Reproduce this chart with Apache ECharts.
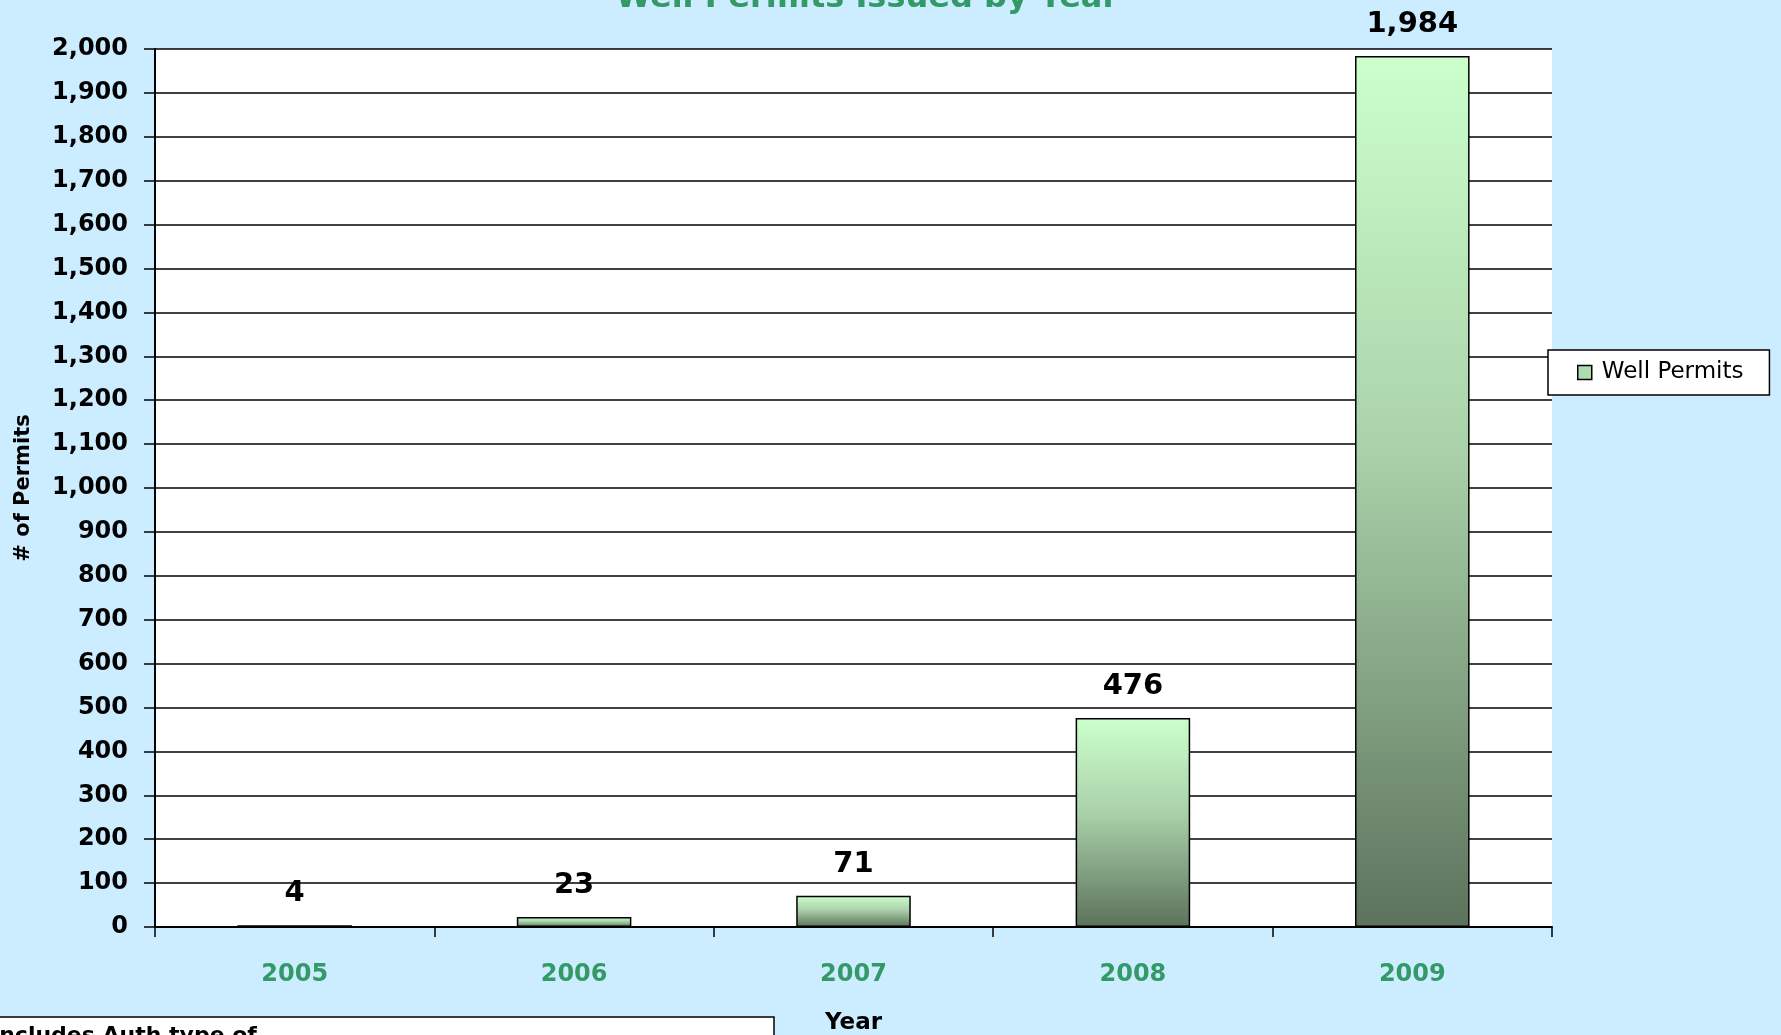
<!DOCTYPE html>
<html>
<head>
<meta charset="utf-8">
<script src="https://cdn.jsdelivr.net/npm/echarts@6/dist/echarts.min.js"></script>
<style>
html,body{margin:0;padding:0;background:#CCECFF;}
#permit_chart{width:1781px;height:1035px;}
</style>
</head>
<body>
<div id="permit_chart"></div>
<script>
var years = ['2005', '2006', '2007', '2008', '2009'];
var permitCounts = [4, 23, 71, 476, 1984];
var seriesName = 'Well Permits';
var yMin = 0, yMax = 2000, yStep = 100;

var permit_chart = echarts.init(document.getElementById('permit_chart'));

// wide font, the original is stretched sideways
var wideFont = 'DejaVu Sans, Verdana, sans-serif';

var barFill = new echarts.graphic.LinearGradient(0, 0, 0, 1, [
	{offset: 0, color: '#CCFFCC'},
	{offset: 0.45, color: '#AAD2AA'},
	{offset: 1, color: '#5C725C'}
]);

var permitOption = {
	backgroundColor: '#CCECFF',
	textStyle: {fontFamily: wideFont},
	title: {
		text: 'Well Permits Issued by Year',
		left: 862,
		textAlign: 'center',
		top: -22,
		textStyle: {color: '#339966', fontSize: 32, fontWeight: 'bold', fontFamily: wideFont}
	},
	legend: {
		left: 1548,
		top: 350,
		padding: [11, 26, 11, 29],
		backgroundColor: '#FFFFFF',
		borderColor: '#000000',
		borderWidth: 1.5,
		borderRadius: 0,
		icon: 'rect',
		itemWidth: 14,
		itemHeight: 14,
		selectedMode: false,
		itemStyle: {color: '#AEDCAE', borderColor: '#000', borderWidth: 1.5},
		textStyle: {fontSize: 23, color: '#000', fontFamily: wideFont, padding: [0, 0, 0, 5]},
		data: [seriesName]
	},
	grid: {
		left: 155,
		top: 49,
		right: 229,
		bottom: 108,
		outerBoundsMode: 'none',
		show: true,
		backgroundColor: '#FFFFFF',
		borderWidth: 0
	},
	xAxis: {
		type: 'category',
		data: years,
		name: 'Year',
		nameLocation: 'middle',
		nameGap: 85,
		nameTextStyle: {fontSize: 23, fontWeight: 'bold', color: '#000'},
		axisLine: {lineStyle: {color: '#000', width: 2}},
		axisTick: {show: true, length: 10, lineStyle: {color: '#000', width: 1.5}},
		axisLabel: {margin: 36, fontSize: 24, fontWeight: 'bold', color: '#339966'}
	},
	yAxis: {
		type: 'value',
		min: yMin,
		max: yMax,
		interval: yStep,
		name: '# of Permits',
		nameLocation: 'middle',
		nameGap: 121,
		nameTextStyle: {fontSize: 21, fontWeight: 'bold', color: '#000'},
		axisLine: {show: true, lineStyle: {color: '#000', width: 2}},
		axisTick: {show: true, length: 11, lineStyle: {color: '#000', width: 1.5}},
		axisLabel: {
			margin: 27,
			fontSize: 24,
			fontWeight: 'bold',
			color: '#000',
			formatter: function(v) { return v.toLocaleString('en-US'); }
		},
		splitLine: {show: true, lineStyle: {color: '#000', width: 1.5}}
	},
	series: [
		{
			type: 'bar',
			name: seriesName,
			data: permitCounts,
			barCategoryGap: '59%',
			itemStyle: {color: barFill, borderColor: '#000', borderWidth: 1.5},
			label: {
				show: true,
				position: 'top',
				distance: 17,
				fontSize: 29,
				fontWeight: 'bold',
				color: '#000',
				formatter: function(p) { return p.value.toLocaleString('en-US'); }
			}
		}
	],
	graphic: [
		{
			type: 'rect',
			shape: {x: -5, y: 1017, width: 779, height: 60},
			style: {fill: '#FFFFFF', stroke: '#000', lineWidth: 1.5}
		},
		{
			type: 'text',
			left: -9,
			top: 1025,
			style: {text: 'Includes Auth type of', fontSize: 22, fontWeight: 'bold', fill: '#000', fontFamily: wideFont}
		}
	]
};

permit_chart.setOption(permitOption);
</script>
</body>
</html>
